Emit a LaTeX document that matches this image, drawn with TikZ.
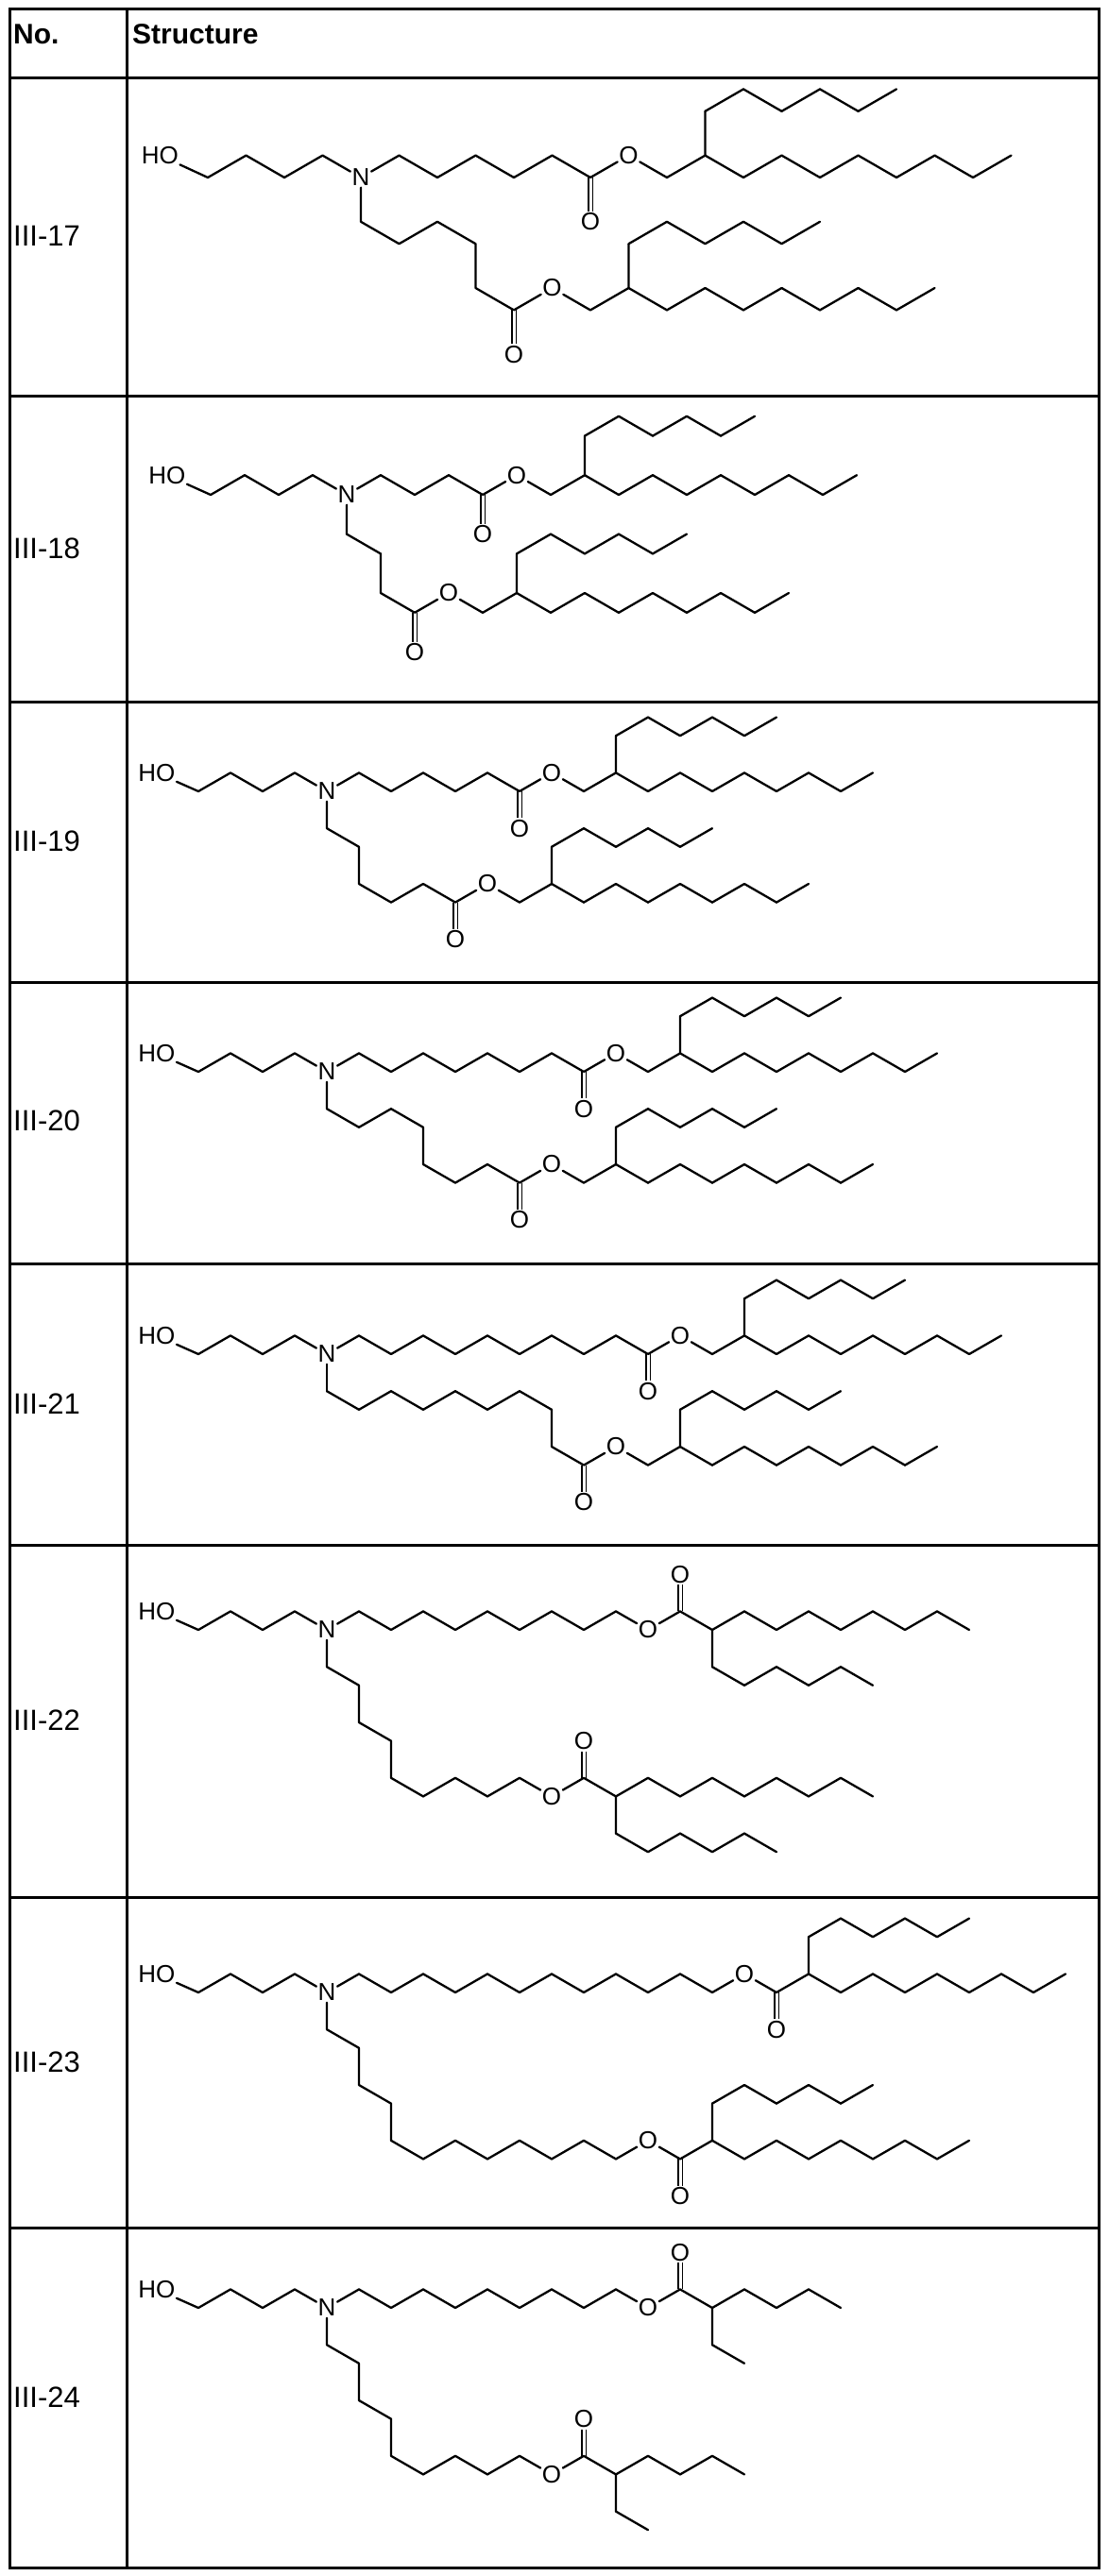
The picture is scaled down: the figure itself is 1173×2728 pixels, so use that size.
\documentclass[tikz,border=0pt]{standalone}
\usepackage{fontspec}
\setmainfont{Liberation Sans}
\tikzset{
  bond/.style={line width=2.3pt, line cap=round, line join=round},
  dbl/.style={double, double distance=3pt, line width=1.9pt},
  atom/.style={inner sep=1.5pt, font=\fontsize{26}{26}\selectfont},
  rowlab/.style={anchor=west, inner sep=0pt, font=\fontsize{31}{31}\selectfont},
  head/.style={anchor=west, inner sep=0pt, font=\bfseries\fontsize{30}{30}\selectfont},
  grid/.style={line width=3pt}
}
% zigzag: start (x0,y0), n bonds, first direction d
\newcommand\zz[4]{\foreach \i in {1,...,#3}{\draw[bond] ({#1+\i-1},{#2+(#4)*mod(\i-1,2)}) -- ({#1+\i},{#2+(#4)*mod(\i,2)});}}
% HO-(CH2)4-N
\newcommand\hon[1]{%
  \node[atom] (#1N) at (0,0) {N};
  \node[atom,anchor=east] (#1HO) at ([xshift=11pt]-5,1) {HO};
  \draw[bond] (#1HO) -- (-4,0) -- (-3,1) -- (-2,0) -- (-1,1) -- (#1N);}
% 2-hexyldecyl ester, carbonyl C at (a,b)
\newcommand\esterA[3]{%
  \coordinate (#3c) at (#1,#2);
  \node[atom] (#3od) at ({#1},{#2-2}) {O};
  \node[atom] (#3o) at ({#1+1},{#2+1}) {O};
  \draw[dbl] (#3c) -- (#3od);
  \draw[bond] (#3c) -- (#3o) -- ({#1+2},{#2}) -- ({#1+3},{#2+1}) -- ({#1+3},{#2+3});
  \zz{#1+3}{#2+3}{5}{1}
  \zz{#1+3}{#2+1}{8}{-1}}
% acyloxy, ester O at (a,b) lower vertex, C=O up
\newcommand\acylUp[6]{%
  \node[atom] (#3o) at (#1,#2) {O};
  \coordinate (#3c) at ({#1+1},{#2+1});
  \node[atom] (#3ou) at ({#1+1},{#2+3}) {O};
  \draw[dbl] (#3c) -- (#3ou);
  \draw[bond] #6 -- (#3o) -- (#3c) -- ({#1+2},{#2}) -- ({#1+2},{#2-2});
  \zz{#1+2}{#2}{#4}{1}
  \zz{#1+2}{#2-2}{#5}{-1}}
% acyloxy, ester O at (a,b) upper vertex, C=O down
\newcommand\acylDown[4]{%
  \node[atom] (#3o) at (#1,#2) {O};
  \coordinate (#3c) at ({#1+1},{#2-1});
  \node[atom] (#3od) at ({#1+1},{#2-3}) {O};
  \draw[dbl] (#3c) -- (#3od);
  \draw[bond] #4 -- (#3o) -- (#3c) -- ({#1+2},{#2}) -- ({#1+2},{#2+2});
  \zz{#1+2}{#2}{8}{-1}
  \zz{#1+2}{#2+2}{5}{1}}
\begin{document}
\begin{tikzpicture}[x=1pt,y=-1pt]
\useasboundingbox (0,0) rectangle (1173,2728);
% table
\draw[grid] (10,9) rectangle (1163,2719);
\draw[grid] (134,9) -- (134,2719);
\foreach \yy in {82,419,743,1040,1338,1636,2009,2359} \draw[grid] (10,\yy) -- (1163,\yy);
\node[head] (hno) at (14,36) {No.};
\node[head] (hst) at (140,36) {Structure};
\node[rowlab] (l17) at (14,250) {III-17};
\node[rowlab] (l18) at (14,581) {III-18};
\node[rowlab] (l19) at (14,891) {III-19};
\node[rowlab] (l20) at (14,1187) {III-20};
\node[rowlab] (l21) at (14,1487) {III-21};
\node[rowlab] (l22) at (14,1822) {III-22};
\node[rowlab] (l23) at (14,2184) {III-23};
\node[rowlab] (l24) at (14,2539) {III-24};
% III-17
\begin{scope}[shift={(382pt,-188pt)}, x=40.5pt, y=23.4pt]
  \hon{a}
  \draw[bond] (aN) -- (1,1); \zz{1}{1}{5}{-1}
  \esterA{6}{0}{aa}
  \draw[bond] (aN) -- (0,-2) -- (1,-3) -- (2,-2) -- (3,-3) -- (3,-5) -- (4,-6);
  \esterA{4}{-6}{ab}
\end{scope}
% III-18
\begin{scope}[shift={(367pt,-524pt)}, x=36pt, y=20.8pt]
  \hon{b}
  \draw[bond] (bN) -- (1,1) -- (2,0) -- (3,1) -- (4,0);
  \esterA{4}{0}{ba}
  \draw[bond] (bN) -- (0,-2) -- (1,-3) -- (1,-5) -- (2,-6);
  \esterA{2}{-6}{bb}
\end{scope}
% III-19
\begin{scope}[shift={(346pt,-838pt)}, x=34pt, y=19.6pt]
  \hon{c}
  \draw[bond] (cN) -- (1,1); \zz{1}{1}{5}{-1}
  \esterA{6}{0}{ca}
  \draw[bond] (cN) -- (0,-2) -- (1,-3) -- (1,-5) -- (2,-6) -- (3,-5) -- (4,-6);
  \esterA{4}{-6}{cb}
\end{scope}
% III-20
\begin{scope}[shift={(346pt,-1135pt)}, x=34pt, y=19.6pt]
  \hon{d}
  \draw[bond] (dN) -- (1,1); \zz{1}{1}{7}{-1}
  \esterA{8}{0}{da}
  \draw[bond] (dN) -- (0,-2) -- (1,-3) -- (2,-2) -- (3,-3) -- (3,-5) -- (4,-6) -- (5,-5) -- (6,-6);
  \esterA{6}{-6}{db}
\end{scope}
% III-21
\begin{scope}[shift={(346pt,-1434pt)}, x=34pt, y=19.6pt]
  \hon{e}
  \draw[bond] (eN) -- (1,1); \zz{1}{1}{9}{-1}
  \esterA{10}{0}{ea}
  \draw[bond] (eN) -- (0,-2); \zz{0}{-2}{7}{-1}
  \draw[bond] (7,-3) -- (7,-5) -- (8,-6);
  \esterA{8}{-6}{eb}
\end{scope}
% III-22
\begin{scope}[shift={(346pt,-1726pt)}, x=34pt, y=19.6pt]
  \hon{f}
  \draw[bond] (fN) -- (1,1); \zz{1}{1}{8}{-1}
  \acylUp{10}{0}{fa}{8}{5}{(9,1)}
  \draw[bond] (fN) -- (0,-2) -- (1,-3) -- (1,-5) -- (2,-6) -- (2,-8); \zz{2}{-8}{4}{-1}
  \acylUp{7}{-9}{fb}{8}{5}{(6,-8)}
\end{scope}
% III-23
\begin{scope}[shift={(346pt,-2110pt)}, x=34pt, y=19.6pt]
  \hon{g}
  \draw[bond] (gN) -- (1,1); \zz{1}{1}{11}{-1}
  \acylDown{13}{1}{ga}{(12,0)}
  \draw[bond] (gN) -- (0,-2) -- (1,-3) -- (1,-5) -- (2,-6) -- (2,-8); \zz{2}{-8}{7}{-1}
  \acylDown{10}{-8}{gb}{(9,-9)}
\end{scope}
% III-24
\begin{scope}[shift={(346pt,-2444pt)}, x=34pt, y=19.6pt]
  \hon{h}
  \draw[bond] (hN) -- (1,1); \zz{1}{1}{8}{-1}
  \acylUp{10}{0}{ha}{4}{1}{(9,1)}
  \draw[bond] (hN) -- (0,-2) -- (1,-3) -- (1,-5) -- (2,-6) -- (2,-8); \zz{2}{-8}{4}{-1}
  \acylUp{7}{-9}{hb}{4}{1}{(6,-8)}
\end{scope}
\end{tikzpicture}
\end{document}
